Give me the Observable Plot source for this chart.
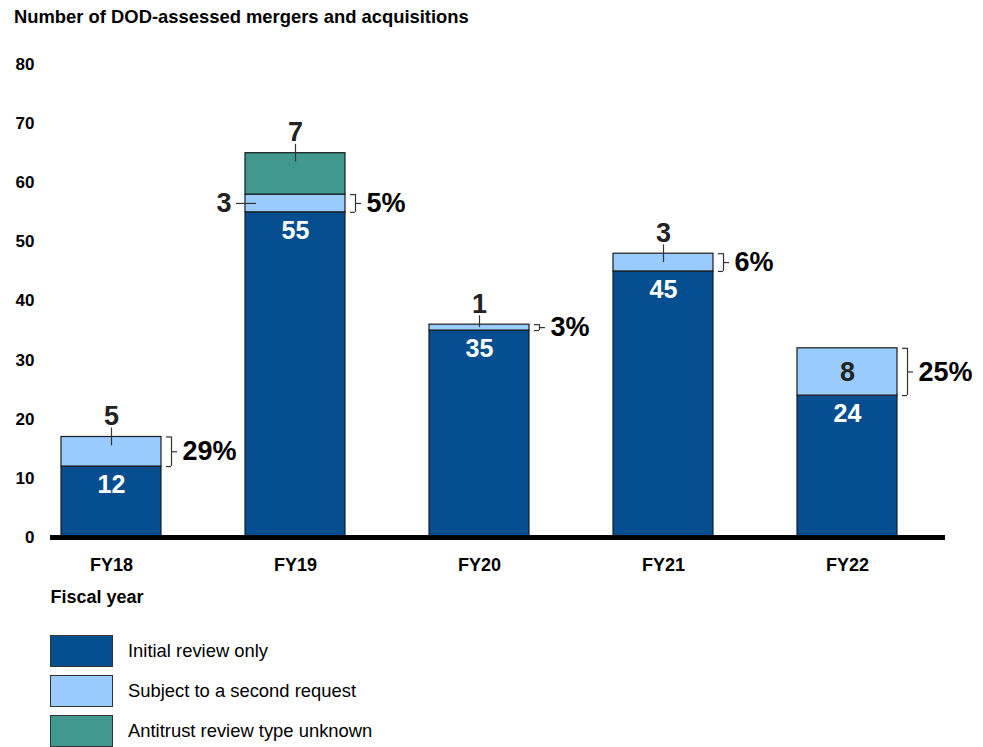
<!DOCTYPE html>
<html>
<head>
<meta charset="utf-8">
<script src="https://cdn.jsdelivr.net/npm/d3@7"></script>
<script src="https://cdn.jsdelivr.net/npm/@observablehq/plot@0.6"></script>
<style>
  html, body { margin: 0; padding: 0; background: #fff; }
  body { width: 983px; height: 747px; overflow: hidden; font-family: "Liberation Sans", Arial, sans-serif; color: #000; }
  #title { height: 24px; padding: 6px 0 0 14px; font-size: 18.4px; font-weight: bold; line-height: 22px; white-space: nowrap; }
  #legend { margin-top: 15px; }
  .item { display: flex; align-items: center; height: 32px; margin-bottom: 8px; }
  .sw { box-sizing: border-box; width: 63px; height: 32px; margin-left: 50px; border: 1.5px solid #333; }
  .lb { margin-left: 15px; font-size: 18.4px; }
</style>
</head>
<body>
<div id="title"></div>
<div id="chart"></div>
<div id="legend"></div>
<script>
const titleText = "Number of DOD-assessed mergers and acquisitions";
const xLabel = "Fiscal year";
const years = ["FY18", "FY19", "FY20", "FY21", "FY22"];
const initialReview = [12, 55, 35, 45, 24];
const secondRequest = [5, 3, 1, 3, 8];
const typeUnknown = [0, 7, 0, 0, 0];
const secondShare = ["29%", "5%", "3%", "6%", "25%"];
const yTicks = [0, 10, 20, 30, 40, 50, 60, 70, 80];
const seriesNames = ["Initial review only", "Subject to a second request", "Antitrust review type unknown"];
const seriesColors = ["#054f91", "#99cbff", "#40988f"];

document.getElementById("title").textContent = titleText;

const stacked = years.flatMap((year, i) => [
  {year, type: seriesNames[0], value: initialReview[i]},
  {year, type: seriesNames[1], value: secondRequest[i]},
  {year, type: seriesNames[2], value: typeUnknown[i]}
]).filter(d => d.value > 0);

const rows = years.map((year, i) => ({
  year,
  initial: initialReview[i],
  second: secondRequest[i],
  unknown: typeUnknown[i],
  share: secondShare[i]
}));

const above = [];
const left = [];
const inside = [];
rows.forEach(r => {
  if (r.unknown > 0) {
    above.push({year: r.year, text: String(r.unknown), top: r.initial + r.second + r.unknown, seg: r.unknown});
    left.push({year: r.year, text: String(r.second), mid: r.initial + r.second / 2});
  } else if (r.second >= 6) {
    inside.push({year: r.year, text: String(r.second), mid: r.initial + r.second / 2});
  } else {
    above.push({year: r.year, text: String(r.second), top: r.initial + r.second, seg: r.second});
  }
});

const chart = Plot.plot({
  width: 983,
  height: 590,
  marginTop: 34,
  marginBottom: 83,
  marginLeft: 50,
  marginRight: 38,
  style: {fontFamily: "'Liberation Sans', Arial, sans-serif", background: "#fff", color: "#000"},
  x: {domain: years, paddingInner: 0.4565, paddingOuter: 0.1603, align: 0.186, axis: null},
  y: {domain: [0, 80], axis: null},
  color: {domain: seriesNames, range: seriesColors},
  marks: [
    Plot.barY(stacked, {x: "year", y: "value", fill: "type", order: seriesNames, stroke: "#1b1b1b", strokeWidth: 1.2, inset: 0}),
    Plot.text(rows, {x: "year", y: "initial", text: d => String(d.initial), lineAnchor: "top", dy: 9, fill: "#fff", fontSize: 25, fontWeight: "bold"}),
    Plot.text(inside, {x: "year", y: "mid", text: "text", lineAnchor: "middle", fill: "#222", fontSize: 27, fontWeight: "bold"}),
    Plot.ruleX(above, {x: "year", y1: d => d.top - Math.min(1.5, d.seg / 2), y2: d => d.top + 1.5, stroke: "#333", strokeWidth: 1.2}),
    Plot.text(above, {x: "year", y: "top", text: "text", lineAnchor: "bottom", dy: -12, fill: "#222", fontSize: 27, fontWeight: "bold"}),
    Plot.tickY(left, {x: "year", y: "mid", insetLeft: -9, insetRight: 89, stroke: "#333", strokeWidth: 1.2}),
    Plot.text(left, {x: "year", y: "mid", text: "text", textAnchor: "end", lineAnchor: "middle", dx: -64, fill: "#222", fontSize: 27, fontWeight: "bold"}),
    Plot.ruleX(rows, {x: "year", y1: "initial", y2: d => d.initial + d.second, dx: 60, stroke: "#333", strokeWidth: 1.2}),
    Plot.tickY(rows, {x: "year", y: "initial", insetLeft: 95, dx: 10, stroke: "#333", strokeWidth: 1.2}),
    Plot.tickY(rows, {x: "year", y: d => d.initial + d.second, insetLeft: 95, dx: 10, stroke: "#333", strokeWidth: 1.2}),
    Plot.tickY(rows, {x: "year", y: d => d.initial + d.second / 2, insetLeft: 94, dx: 16, stroke: "#333", strokeWidth: 1.2}),
    Plot.text(rows, {x: "year", y: d => d.initial + d.second / 2, text: "share", textAnchor: "start", lineAnchor: "middle", dx: 71, fill: "#000", fontSize: 27, fontWeight: "bold"}),
    Plot.ruleY([0], {stroke: "#000", strokeWidth: 5}),
    Plot.text(yTicks, {y: d => d, text: d => String(d), frameAnchor: "left", dx: -16, textAnchor: "end", lineAnchor: "middle", fill: "#000", fontSize: 17, fontWeight: "bold"}),
    Plot.text(years, {x: d => d, text: d => d, frameAnchor: "bottom", dy: 28, lineAnchor: "middle", fill: "#000", fontSize: 18, fontWeight: "bold"}),
    Plot.text([xLabel], {text: d => d, frameAnchor: "bottom-left", dy: 60, textAnchor: "start", lineAnchor: "middle", fill: "#000", fontSize: 18, fontWeight: "bold"})
  ]
});
document.getElementById("chart").appendChild(chart);

const legend = document.getElementById("legend");
seriesNames.forEach((name, i) => {
  const item = document.createElement("div");
  item.className = "item";
  const sw = document.createElement("div");
  sw.className = "sw";
  sw.style.background = seriesColors[i];
  const lb = document.createElement("div");
  lb.className = "lb";
  lb.textContent = name;
  item.appendChild(sw);
  item.appendChild(lb);
  legend.appendChild(item);
});
</script>
</body>
</html>
